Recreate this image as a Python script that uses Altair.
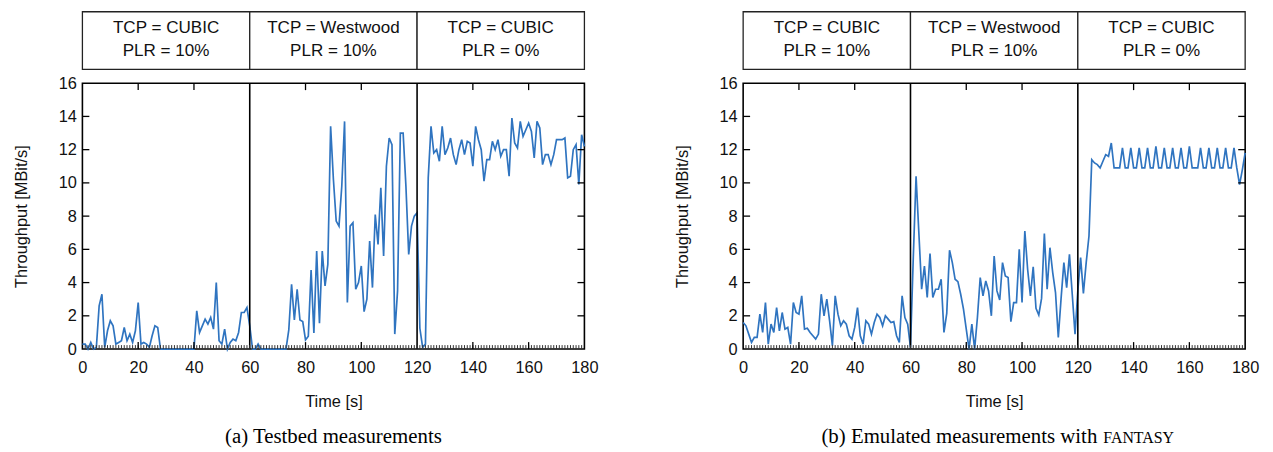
import altair as alt
import pandas as pd

# ---------------- data ----------------
TIME = list(range(0, 181))

TESTBED = [
    0.3, 0.3, 0.0, 0.4, 0.0, 0.1, 2.6, 3.3, 0.1, 1.1,
    1.7, 1.4, 0.3, 0.4, 0.5, 1.3, 0.5, 0.9, 0.4, 1.1,
    2.8, 0.3, 0.4, 0.3, 0.1, 0.8, 1.4, 1.3, 0.0, 0.0,
    0.0, 0.0, 0.0, 0.0, 0.0, 0.0, 0.0, 0.0, 0.0, 0.0,
    0.0, 2.3, 1.0, 1.4, 1.8, 1.5, 1.9, 1.2, 4.0, 0.5,
    0.3, 1.2, 0.0, 0.4, 0.6, 0.5, 1.0, 2.2, 2.2, 2.5,
    1.4, 0.0, 0.0, 0.3, 0.0, 0.0, 0.0, 0.0, 0.0, 0.0,
    0.0, 0.0, 0.0, 0.0, 1.15, 3.9, 1.75, 3.6, 1.75, 1.65,
    0.55, 0.77, 4.75, 0.97, 5.9, 1.55, 5.9, 3.8, 5.1, 13.4,
    10.2, 7.7, 7.4, 9.8, 13.7, 2.8, 7.4, 7.6, 3.6, 4.0,
    5.0, 2.25, 3.0, 6.5, 3.7, 8.1, 6.3, 9.7, 5.6, 11.0,
    12.7, 12.3, 0.9, 3.5, 13.0, 13.0, 9.8, 5.7, 7.4, 8.0,
    8.2, 1.25, 0.1, 0.3, 10.3, 13.4, 11.8, 12.0, 11.3, 13.4,
    11.7, 12.1, 12.7, 11.7, 11.1, 12.0, 12.6, 11.7, 12.5, 12.4,
    11.0, 13.4, 12.6, 12.0, 10.1, 11.4, 11.4, 12.5, 12.0, 12.6,
    11.6, 12.0, 12.0, 10.4, 13.9, 12.4, 12.1, 13.7, 12.8, 13.2,
    13.6, 13.1, 11.5, 13.7, 13.3, 11.1, 11.7, 11.7, 11.1, 11.7,
    12.6, 12.6, 12.6, 12.7, 10.3, 10.4, 12.0, 12.3, 9.9, 12.9,
    12.2,
]

EMULATED = [
    1.6, 1.4, 0.9, 0.4, 0.7, 0.7, 2.1, 1.0, 2.8, 0.3,
    1.5, 1.0, 2.5, 1.1, 2.2, 1.2, 1.3, 0.3, 2.8, 2.2,
    2.1, 3.2, 1.2, 1.25, 1.0, 0.8, 0.6, 0.9, 3.3, 2.0,
    3.0, 1.7, 0.2, 3.2, 2.1, 1.4, 1.7, 1.5, 0.8, 0.6,
    1.3, 2.5, 0.8, 0.3, 1.7, 1.5, 0.9, 1.6, 2.1, 1.9,
    1.4, 2.0, 1.8, 1.6, 1.65, 0.8, 0.4, 3.2, 1.9, 1.5,
    0.1, 5.5, 10.4, 7.0, 3.6, 5.0, 3.1, 5.75, 3.1, 3.6,
    3.6, 4.2, 1.0, 2.15, 5.95, 5.2, 4.2, 4.06, 3.3, 2.4,
    1.2, 0.0, 1.5, 0.0, 1.9, 4.3, 3.2, 4.1, 3.5, 2.0,
    5.6, 3.5, 2.95, 5.2, 4.4, 4.3, 1.65, 2.8, 2.8, 6.0,
    2.8, 7.1, 4.8, 3.2, 4.95, 2.45, 2.05, 3.05, 6.95, 3.6,
    6.1, 4.6, 3.4, 0.7, 3.05, 5.2, 3.7, 5.7, 3.3, 0.9,
    3.5, 5.5, 3.35, 5.2, 6.8, 11.4, 11.2, 11.1, 10.9, 11.3,
    11.7, 11.6, 12.4, 10.9, 10.9, 10.9, 12.1, 10.9, 10.9, 12.1,
    10.9, 10.9, 12.1, 10.9, 10.9, 12.1, 10.9, 10.9, 12.2, 10.9,
    10.9, 12.1, 10.9, 10.9, 12.1, 10.9, 10.9, 12.1, 10.9, 10.9,
    12.2, 10.9, 10.9, 10.9, 12.1, 10.9, 10.9, 12.1, 10.9, 10.9,
    12.1, 10.9, 10.9, 12.1, 10.9, 10.9, 12.1, 10.9, 9.9, 10.8,
    11.8,
]

PHASE_START = [0, 60, 120]
PHASE_END = [60, 120, 180]
PHASE_TCP = ["TCP = CUBIC", "TCP = Westwood", "TCP = CUBIC"]
PHASE_PLR = ["PLR = 10%", "PLR = 10%", "PLR = 0%"]
PHASE_BORDERS = [60, 120]

X_LABELS = [0, 20, 40, 60, 80, 100, 120, 140, 160, 180]
X_MAJOR_TICKS = [20, 40, 80, 100, 140, 160]
X_MINOR_TICKS = list(range(1, 180))
Y_LABELS = [0, 2, 4, 6, 8, 10, 12, 14, 16]
Y_MAJOR_TICKS = [2, 4, 6, 8, 10, 12, 14]

CAPTION_A = "(a) Testbed measurements"
CAPTION_B = "(b) Emulated measurements with"
CAPTION_B_SC = "FANTASY"

# ---------------- style ----------------
W, H = 506, 268
SANS = "Liberation Sans"
SERIF = "Liberation Serif"
BLUE = "#2f74c0"
FS = 16.5

X_AXIS = alt.Axis(values=X_LABELS, title="Time [s]", labelPadding=11,
                  titlePadding=17, labelFlush=False, labelOverlap=False)
Y_AXIS = alt.Axis(values=Y_LABELS, title="Throughput [MBit/s]",
                  labelPadding=6, titlePadding=29, labelFlush=False,
                  labelOverlap=False)


def panel(values, caption, caption_sc=None):
    df = pd.DataFrame({"t": TIME, "v": values})
    xs = alt.Scale(domain=[0, 180], nice=False, zero=False)
    ys = alt.Scale(domain=[0, 16], nice=False)

    def X(field="t"):
        return alt.X(f"{field}:Q", scale=xs, axis=X_AXIS)

    def Y(field="v"):
        return alt.Y(f"{field}:Q", scale=ys, axis=Y_AXIS)

    line = alt.Chart(df).mark_line(color=BLUE, strokeWidth=1.7, clip=False).encode(
        x=X(), y=Y())

    borders = alt.Chart(pd.DataFrame({"t": PHASE_BORDERS})).mark_rule(
        color="black", strokeWidth=1.6
    ).encode(x=X())

    xmaj = pd.DataFrame({"t": X_MAJOR_TICKS})
    xmin = pd.DataFrame({"t": X_MINOR_TICKS})
    ymaj = pd.DataFrame({"v": Y_MAJOR_TICKS})

    tick_style = dict(color="black", strokeWidth=1.3)
    t_bot = alt.Chart(xmaj).mark_rule(**tick_style).encode(
        x=X(), y=alt.value(H), y2=alt.value(H - 7))
    t_top = alt.Chart(xmaj).mark_rule(**tick_style).encode(
        x=X(), y=alt.value(0), y2=alt.value(7))
    t_min = alt.Chart(xmin).mark_rule(color="#333333", strokeWidth=1.0).encode(
        x=X(), y=alt.value(H), y2=alt.value(H - 4))
    t_left = alt.Chart(ymaj).mark_rule(**tick_style).encode(
        y=Y(), x=alt.value(0), x2=alt.value(7))
    t_right = alt.Chart(ymaj).mark_rule(**tick_style).encode(
        y=Y(), x=alt.value(W), x2=alt.value(W - 7))

    phases = pd.DataFrame({
        "t": PHASE_START, "t2": PHASE_END,
        "tcp": PHASE_TCP, "plr": PHASE_PLR,
    })
    phases["tm"] = (phases["t"] + phases["t2"]) / 2

    boxes = alt.Chart(phases).mark_rect(
        fill="white", stroke="#222222", strokeWidth=1.3
    ).encode(x=X(), x2="t2:Q",
             y=alt.value(-72), y2=alt.value(-14))
    txt1 = alt.Chart(phases).mark_text(
        font=SANS, fontSize=FS + 0.7, color="#111111", baseline="middle"
    ).encode(x=X("tm"), y=alt.value(-56), text="tcp:N")
    txt2 = alt.Chart(phases).mark_text(
        font=SANS, fontSize=FS + 0.7, color="#111111", baseline="middle"
    ).encode(x=X("tm"), y=alt.value(-32), text="plr:N")

    layers = [line, borders, t_min, t_bot, t_top, t_left, t_right, boxes, txt1, txt2]

    if caption_sc is None:
        cap = alt.Chart(pd.DataFrame({"c": [caption]})).mark_text(
            font=SERIF, fontSize=21, color="black", baseline="middle", align="center"
        ).encode(x=alt.value(W / 2), y=alt.value(H + 89), text="c:N")
        layers.append(cap)
    else:
        cap = alt.Chart(pd.DataFrame({"c": [caption]})).mark_text(
            font=SERIF, fontSize=21, color="black", baseline="middle", align="right"
        ).encode(x=alt.value(W / 2 + 104), y=alt.value(H + 89), text="c:N")
        cap2 = alt.Chart(pd.DataFrame({"c": [caption_sc]})).mark_text(
            font=SERIF, fontSize=16, color="black", baseline="middle", align="left"
        ).encode(x=alt.value(W / 2 + 110), y=alt.value(H + 90), text="c:N")
        layers += [cap, cap2]

    return alt.layer(*layers).properties(width=W, height=H)


left = panel(TESTBED, CAPTION_A)
right = panel(EMULATED, CAPTION_B, CAPTION_B_SC)

chart = alt.hconcat(left, right, spacing=74).properties(
    padding={"left": 4, "top": 0, "right": 5, "bottom": 5}
).configure_view(
    stroke="black", strokeWidth=1.6
).configure_axis(
    domain=False, ticks=False, tickSize=0, grid=False,
    labelOverlap=False, labelFlush=False,
    labelFont=SANS, labelFontSize=FS, labelColor="#111111",
    titleFont=SANS, titleFontSize=FS, titleFontWeight="normal", titleColor="#111111",
)

chart.save("out.html", embed_options={"renderer": "svg", "actions": False})
